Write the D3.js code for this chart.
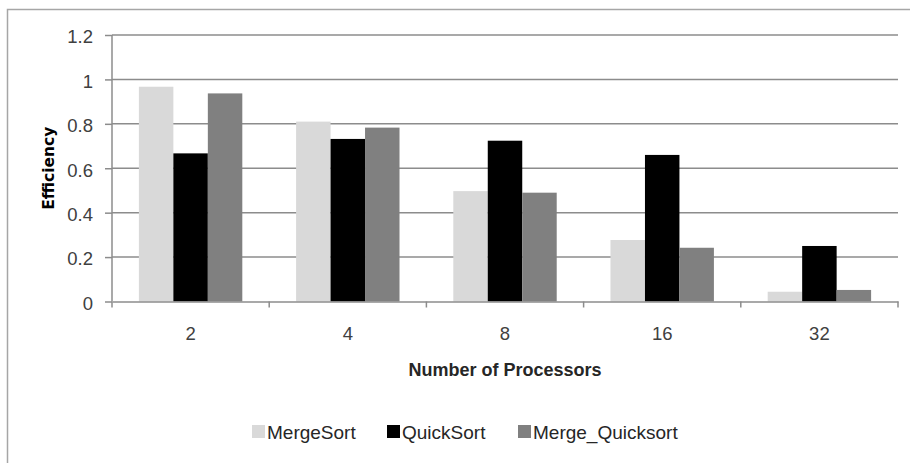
<!DOCTYPE html>
<html>
<head>
<meta charset="utf-8">
<script src="https://cdn.jsdelivr.net/npm/d3@7"></script>
<style>
  html, body { margin: 0; padding: 0; background: #fff; }
  svg { display: block; }
</style>
</head>
<body>
<svg id="chart" width="910" height="463"></svg>
<script>
// Processor counts along the x axis
const categories = ["2", "4", "8", "16", "32"];
// Parallel efficiency per algorithm
const seriesNames = ["MergeSort", "QuickSort", "Merge_Quicksort"];
const mergeSort = [0.967, 0.81, 0.497, 0.277, 0.044];
const quickSort = [0.667, 0.732, 0.724, 0.66, 0.25];
const mergeQuicksort = [0.937, 0.783, 0.49, 0.242, 0.052];
const yTicks = [0, 0.2, 0.4, 0.6, 0.8, 1, 1.2];
const colors = ["#d9d9d9", "#000000", "#808080"];

const seriesValues = [mergeSort, quickSort, mergeQuicksort];
const data = categories.map((c, i) => ({
  cat: c,
  values: seriesNames.map((s, k) => ({ key: s, value: seriesValues[k][i] }))
}));

const svg = d3.select("#chart");
const margin = { left: 112, right: 12, top: 35, bottom: 161.5 };
const W = 910, H = 463;
const plotW = W - margin.left - margin.right;
const plotH = H - margin.top - margin.bottom;

const font = "'Liberation Sans', Arial, sans-serif";

// Outer chart frame
svg.append("rect")
  .attr("x", 7.5).attr("y", 9.5)
  .attr("width", W + 10).attr("height", H + 10)
  .attr("fill", "none").attr("stroke", "#a6a6a6").attr("stroke-width", 1.5);

const g = svg.append("g").attr("transform", `translate(${margin.left},${margin.top})`);

const x0 = d3.scaleBand().domain(categories).range([0, plotW]).padding(0);
const x1 = d3.scaleBand().domain(seriesNames).range([0, x0.bandwidth()])
  .paddingInner(0).paddingOuter(0.78);
const y = d3.scaleLinear().domain([0, 1.2]).range([plotH, 0]);

// Horizontal gridlines
g.append("g").selectAll("line")
  .data(yTicks.filter(t => t > 0))
  .join("line")
  .attr("x1", 0).attr("x2", plotW)
  .attr("y1", d => y(d)).attr("y2", d => y(d))
  .attr("stroke", "#8c8c8c").attr("stroke-width", 1.5);

// Bars
const groups = g.append("g").selectAll("g")
  .data(data).join("g")
  .attr("transform", d => `translate(${x0(d.cat)},0)`);
groups.selectAll("rect")
  .data(d => d.values).join("rect")
  .attr("x", d => x1(d.key))
  .attr("width", x1.bandwidth())
  .attr("y", d => y(d.value))
  .attr("height", d => y(0) - y(d.value))
  .attr("fill", (d, i) => colors[i]);

// Y axis
const yAxis = g.append("g")
  .call(d3.axisLeft(y).tickValues(yTicks).tickSize(7).tickPadding(12)
    .tickFormat(d => d3.format("")(+d.toFixed(1))));
yAxis.select(".domain").attr("stroke", "#8c8c8c").attr("stroke-width", 1.5).attr("d", `M0,0V${plotH}`);
yAxis.selectAll(".tick line").attr("stroke", "#8c8c8c").attr("stroke-width", 1.5);
yAxis.selectAll(".tick text")
  .attr("font-family", font).attr("font-size", 18.5).attr("fill", "#404040")
  .attr("dy", "0.42em");

// X axis with ticks at category boundaries
const xAxis = g.append("g").attr("transform", `translate(0,${plotH})`)
  .call(d3.axisBottom(x0).tickSize(0).tickPadding(25));
xAxis.select(".domain").attr("stroke", "#8c8c8c").attr("stroke-width", 1.5);
xAxis.selectAll(".tick text")
  .attr("font-family", font).attr("font-size", 18.5).attr("fill", "#404040");
xAxis.append("g").selectAll("line")
  .data(d3.range(categories.length + 1))
  .join("line")
  .attr("x1", i => i * x0.step()).attr("x2", i => i * x0.step())
  .attr("y1", 0).attr("y2", 6)
  .attr("stroke", "#8c8c8c").attr("stroke-width", 1.5);

// Axis titles
svg.append("text")
  .attr("x", margin.left + plotW / 2).attr("y", 376)
  .attr("text-anchor", "middle")
  .attr("font-family", font).attr("font-weight", "bold").attr("font-size", 18)
  .attr("fill", "#262626")
  .text("Number of Processors");

svg.append("text")
  .attr("transform", `translate(54,${margin.top + plotH / 2}) rotate(-90)`)
  .attr("text-anchor", "middle")
  .attr("font-family", "'DejaVu Sans', Verdana, sans-serif").attr("font-weight", "bold").attr("font-size", 15.5)
  .attr("fill", "#000")
  .text("Efficiency");

// Legend
const legendX = [252, 387, 518];
const legend = svg.append("g").selectAll("g")
  .data(seriesNames).join("g")
  .attr("transform", (d, i) => `translate(${legendX[i]},425)`);
legend.append("rect")
  .attr("width", 13).attr("height", 13)
  .attr("fill", (d, i) => colors[i]);
legend.append("text")
  .attr("x", 15).attr("y", 13.5)
  .attr("font-family", font).attr("font-size", 19).attr("fill", "#262626")
  .text(d => d);
</script>
</body>
</html>
